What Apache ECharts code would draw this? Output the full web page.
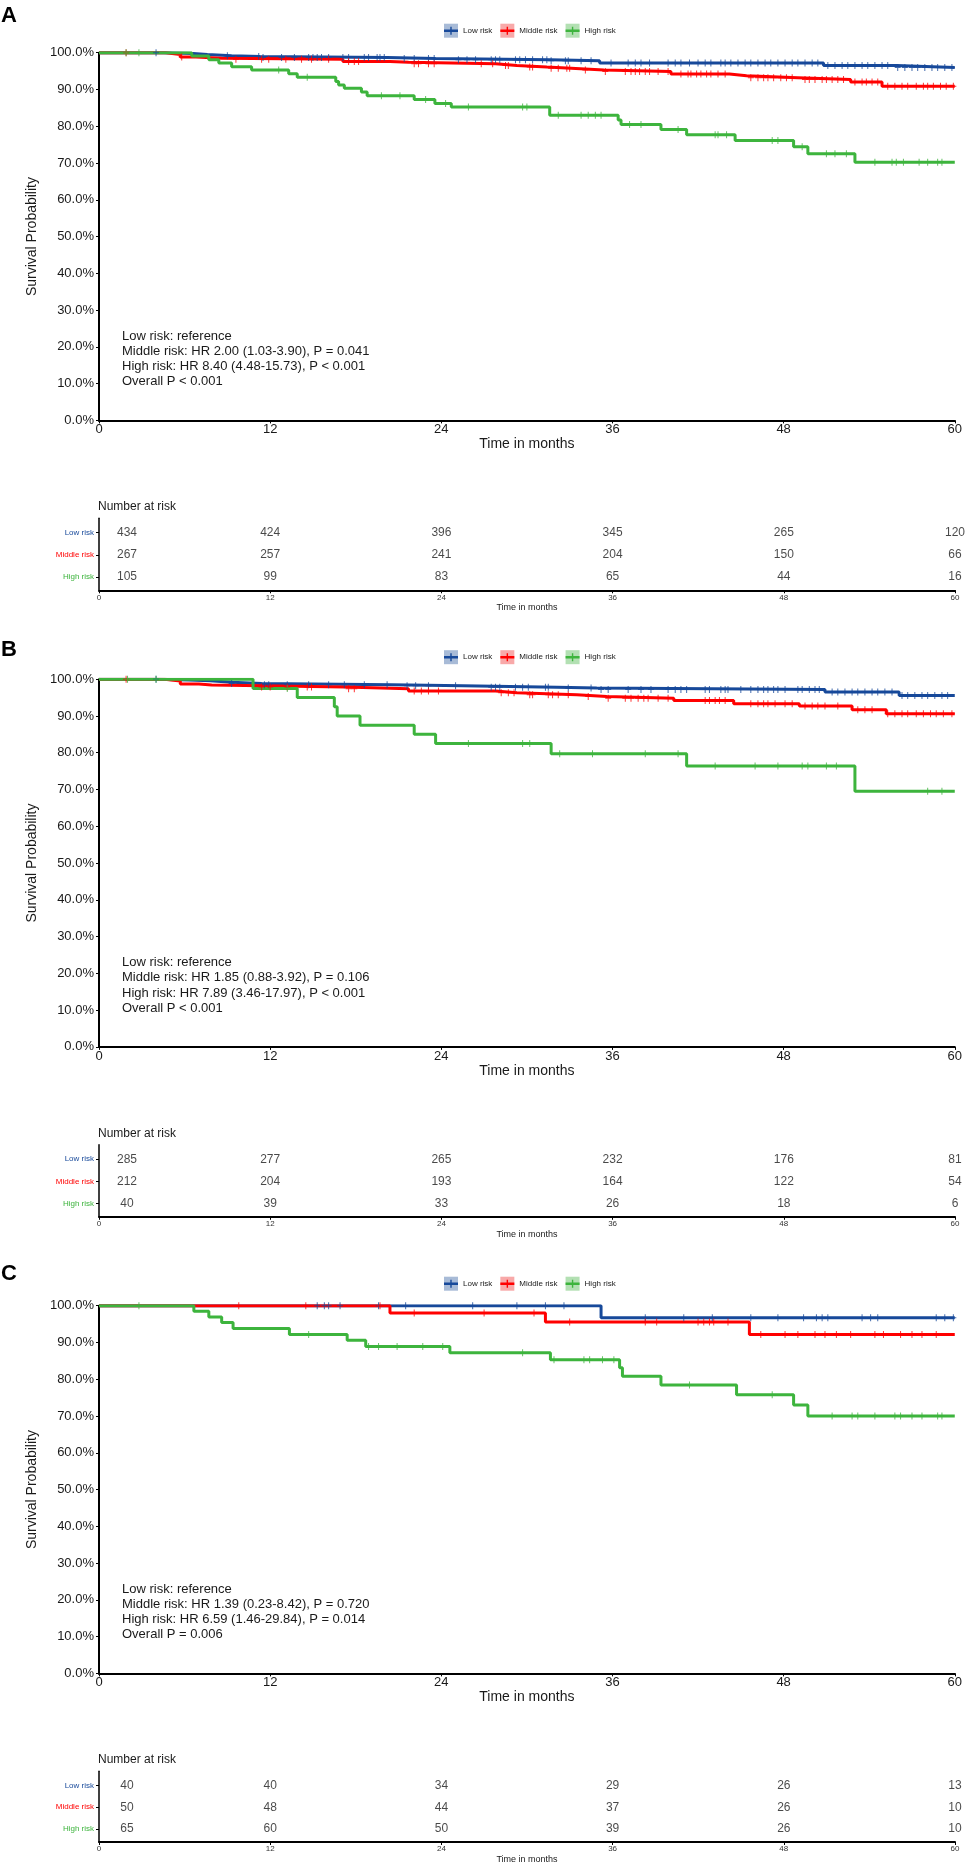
<!DOCTYPE html>
<html><head><meta charset="utf-8">
<script src="https://cdn.jsdelivr.net/npm/echarts@6/dist/echarts.min.js"></script>
<style>html,body{margin:0;padding:0;background:#fff}#c{width:965px;height:1865px}</style>
</head><body><div id="c"></div>
<script>
const groups = ['Low risk', 'Middle risk', 'High risk'];
const riskTimes = [0, 12, 24, 36, 48, 60];

// ---------- Panel A ----------
const aLowSteps = [[0,1],[4.5,0.998],[6.6,0.995],[7.6,0.992],[9.3,0.990],[11.3,0.987],[20.2,0.984],[23.6,0.981],[31.6,0.978],[35.1,0.972],[50.8,0.965],[55.9,0.960],[60,0.960]];
const aMidSteps = [[0,1],[4.7,0.995],[5.7,0.988],[6.8,0.985],[8.6,0.982],[17.1,0.976],[20.4,0.974],[21.7,0.970],[27.8,0.965],[29.3,0.961],[31.4,0.958],[33.1,0.953],[35.4,0.949],[40.1,0.942],[44.2,0.937],[45.4,0.932],[49.0,0.927],[52.7,0.920],[54.9,0.909],[60,0.909]];
const aHighSteps = [[0,1],[6.5,0.991],[7.7,0.981],[8.4,0.972],[9.3,0.962],[10.7,0.953],[13.3,0.943],[13.9,0.933],[16.6,0.922],[16.8,0.912],[17.2,0.903],[18.4,0.893],[18.8,0.883],[22.1,0.873],[23.55,0.862],[24.7,0.852],[31.6,0.830],[36.4,0.817],[36.6,0.805],[39.4,0.791],[41.2,0.777],[44.6,0.761],[48.7,0.744],[49.7,0.725],[53.0,0.702],[60,0.702]];
const aLowCensor = [4.0,9.0,11.2,11.5,12.8,13.7,14.7,15.0,15.3,15.6,16.1,17.1,17.5,18.6,18.9,19.5,19.7,20.0,21.4,22.1,23.1,23.5,25.2,25.8,26.4,27.5,27.8,28.1,29.2,29.5,29.9,30.4,31.1,31.4,31.7,32.7,32.9,33.8,34.5,35.9,37.1,37.6,38.0,38.6,39.9,40.4,40.8,41.4,42.0,42.5,42.9,43.6,43.9,44.3,44.8,45.3,45.7,46.2,46.7,47.1,47.6,48.1,48.6,49.0,49.5,50.0,50.4,51.1,51.6,52.1,52.5,53.0,53.5,53.9,54.4,54.9,55.3,56.0,56.5,57.0,57.4,57.9,58.4,58.8,59.3,59.8];
const aMidCensor = [1.9,5.8,9.6,11.4,11.9,13.1,14.2,14.9,16.1,17.5,17.9,18.2,22.1,22.4,23.1,23.5,26.8,27.6,28.5,28.7,30.2,30.4,31.7,32.2,32.8,33.0,34.1,35.5,36.9,37.3,37.6,37.9,38.3,38.6,39.2,39.9,40.8,41.3,41.5,41.9,42.2,42.6,42.9,43.4,43.9,45.7,46.2,46.6,46.9,47.3,47.8,48.2,48.6,49.5,49.8,50.2,50.7,51.0,51.4,51.8,52.2,53.0,53.5,53.8,54.2,54.6,55.3,55.8,56.3,56.7,57.3,57.8,58.1,58.5,59.0,59.4,59.9];
const aHighCensor = [1.9,2.8,12.6,14.6,19.8,21.1,22.9,24.3,25.9,29.7,30.0,32.2,33.8,34.3,34.8,35.2,37.2,38.0,40.6,43.2,43.4,44.0,47.2,47.6,49.3,51.0,51.6,52.4,54.4,55.6,55.9,56.4,57.5,58.1,58.8,59.1];
const aRiskLow = [434, 424, 396, 345, 265, 120];
const aRiskMid = [267, 257, 241, 204, 150, 66];
const aRiskHigh = [105, 99, 83, 65, 44, 16];
const aStats = ['Low risk: reference', 'Middle risk: HR 2.00 (1.03-3.90), P = 0.041', 'High risk: HR 8.40 (4.48-15.73), P < 0.001', 'Overall P < 0.001'];

// ---------- Panel B ----------
const bLowSteps = [[0,1],[4.1,0.998],[6.3,0.996],[7.8,0.992],[9.3,0.988],[11.4,0.985],[20.5,0.982],[25.5,0.978],[32.1,0.976],[34.9,0.972],[50.9,0.965],[56.1,0.956],[60,0.956]];
const bMidSteps = [[0,1],[4.6,0.995],[5.7,0.987],[7.0,0.984],[7.9,0.979],[17.2,0.974],[21.7,0.968],[27.8,0.963],[29.3,0.958],[33.5,0.953],[35.6,0.948],[40.3,0.942],[44.5,0.933],[49.1,0.927],[52.8,0.917],[55.2,0.906],[60,0.906]];
const bHighSteps = [[0,1],[10.8,0.975],[13.9,0.950],[16.5,0.925],[16.7,0.900],[18.3,0.875],[22.1,0.850],[23.6,0.825],[31.7,0.797],[41.2,0.764],[53.0,0.695],[60,0.695]];
const bLowCensor = [4.0,9.3,11.6,11.9,13.2,14.7,16.1,17.2,18.6,20.2,21.6,22.2,23.1,25.0,27.5,27.8,28.1,29.2,29.7,30.1,31.3,31.5,32.9,34.5,35.2,35.7,37.1,38.0,38.7,39.9,40.4,40.8,41.2,42.5,42.8,43.6,43.9,44.1,45.0,45.7,46.2,46.6,46.9,47.3,47.6,48.1,49.0,49.3,49.8,50.2,50.5,51.4,51.8,52.3,52.8,53.2,53.7,54.2,54.6,55.1,55.6,56.3,56.7,57.2,57.7,58.1,58.6,59.1,59.5];
const bMidCensor = [1.9,11.4,12.0,13.2,14.6,14.9,17.5,17.9,22.1,22.6,23.1,23.8,28.2,28.7,29.1,30.2,30.4,31.5,31.8,32.2,32.9,34.3,35.7,36.9,37.3,37.8,38.2,38.5,39.2,39.9,42.5,42.8,43.2,43.5,43.9,45.7,46.2,46.6,46.9,47.4,48.1,48.6,49.5,50.0,50.4,50.9,51.8,53.2,53.7,54.2,55.3,55.8,56.3,56.7,57.3,57.8,58.3,58.7,59.2,59.8];
const bHighCensor = [2.0,4.0,13.2,25.9,29.7,30.2,32.3,34.6,38.3,40.6,43.2,46.0,47.6,49.3,49.7,51.0,51.7,58.1,59.1];
const bRiskLow = [285, 277, 265, 232, 176, 81];
const bRiskMid = [212, 204, 193, 164, 122, 54];
const bRiskHigh = [40, 39, 33, 26, 18, 6];
const bStats = ['Low risk: reference', 'Middle risk: HR 1.85 (0.88-3.92), P = 0.106', 'High risk: HR 7.89 (3.46-17.97), P < 0.001', 'Overall P < 0.001'];

// ---------- Panel C ----------
const cLowSteps = [[0,1],[35.2,0.967],[60,0.967]];
const cMidSteps = [[0,1],[20.4,0.980],[31.3,0.956],[45.6,0.922],[60,0.922]];
const cHighSteps = [[0,1],[6.65,0.985],[7.7,0.969],[8.6,0.954],[9.4,0.938],[13.35,0.922],[17.4,0.906],[18.7,0.889],[24.6,0.872],[31.65,0.853],[36.5,0.831],[36.7,0.808],[39.4,0.784],[44.7,0.758],[48.7,0.730],[49.7,0.700],[60,0.700]];
const cLowCensor = [15.3,15.8,16.1,16.9,19.6,21.5,26.2,29.3,31.3,32.6,38.3,41.0,43.0,45.7,47.6,49.4,50.3,50.7,51.1,53.5,54.1,54.6,58.7,59.3,59.9];
const cMidCensor = [9.8,14.5,19.7,22.1,27.0,30.5,33.0,38.3,39.1,42.0,42.4,42.8,43.1,44.1,46.4,48.1,49.0,50.2,50.9,51.7,52.7,54.4,55.0,56.2,57.0,57.7,58.7];
const cHighCensor = [2.8,14.7,18.9,19.6,20.9,22.7,24.1,29.7,31.9,34.0,34.4,35.3,36.1,41.4,47.2,51.4,52.8,53.2,54.4,55.8,56.2,57.0,57.7,58.8,59.1];
const cRiskLow = [40, 40, 34, 29, 26, 13];
const cRiskMid = [50, 48, 44, 37, 26, 10];
const cRiskHigh = [65, 60, 50, 39, 26, 10];
const cStats = ['Low risk: reference', 'Middle risk: HR 1.39 (0.23-8.42), P = 0.720', 'High risk: HR 6.59 (1.46-29.84), P = 0.014', 'Overall P = 0.006'];

const panels = [
  {label: 'A', steps: [aLowSteps, aMidSteps, aHighSteps], censor: [aLowCensor, aMidCensor, aHighCensor], risk: [aRiskLow, aRiskMid, aRiskHigh], stats: aStats},
  {label: 'B', steps: [bLowSteps, bMidSteps, bHighSteps], censor: [bLowCensor, bMidCensor, bHighCensor], risk: [bRiskLow, bRiskMid, bRiskHigh], stats: bStats},
  {label: 'C', steps: [cLowSteps, cMidSteps, cHighSteps], censor: [cLowCensor, cMidCensor, cHighCensor], risk: [cRiskLow, cRiskMid, cRiskHigh], stats: cStats}
];

const FONT = '"Liberation Sans", Arial, Helvetica, sans-serif';
const colors = ['#17499A', '#FF0000', '#3DB43D'];
const lightColors = ['#A8BBD7', '#F8A9A9', '#B3E0B3'];
const offs = [0, 626.5, 1253];
const labelTops = [4, 638, 1262];
const PLUS = 'path://M0,3H6V4H0Z M2.5,0H3.5V7H2.5Z';
const KEY = 'path://M0,2.75H14V5.25H0Z M6.3,0H7.7V8H6.3Z';
const TXT = '#1a1a1a';

function survAt(steps, t) {
  let s = 1;
  for (const [tt, v] of steps) { if (tt <= t) s = v; else break; }
  return s;
}

const option = {
  animation: false,
  textStyle: {fontFamily: FONT},
  grid: [], xAxis: [], yAxis: [], series: [], title: [], legend: []
};

panels.forEach((p, i) => {
  const o = offs[i];
  const gp = 2 * i, gt = 2 * i + 1;
  option.grid.push({left: 99, width: 856, top: 52.7 + o, height: 367.7});
  option.grid.push({left: 99, width: 856, top: 518.3 + o, height: 72});

  option.xAxis.push({
    gridIndex: gp, type: 'value', min: 0, max: 60, interval: 12,
    axisLine: {show: true, onZero: false, lineStyle: {color: '#000', width: 2}},
    axisTick: {show: true, length: 3, lineStyle: {color: '#000'}},
    axisLabel: {fontSize: 13, color: TXT, margin: 3},
    splitLine: {show: false},
    name: 'Time in months', nameLocation: 'middle', nameGap: 16,
    nameTextStyle: {fontSize: 14, color: TXT}
  });
  option.yAxis.push({
    gridIndex: gp, type: 'value', min: 0, max: 1, interval: 0.1,
    axisLine: {show: true, onZero: false, lineStyle: {color: '#000', width: 2}},
    axisTick: {show: true, length: 3, lineStyle: {color: '#000'}},
    axisLabel: {fontSize: 13, color: TXT, margin: 5, formatter: v => (v * 100).toFixed(1) + '%'},
    splitLine: {show: false},
    name: 'Survival Probability', nameLocation: 'middle', nameGap: 43,
    nameTextStyle: {fontSize: 14, color: TXT}
  });
  option.xAxis.push({
    gridIndex: gt, type: 'value', min: 0, max: 60, interval: 12,
    axisLine: {show: true, onZero: false, lineStyle: {color: '#000', width: 2}},
    axisTick: {show: true, length: 3, lineStyle: {color: '#000'}},
    axisLabel: {fontSize: 8, color: '#333', margin: 3},
    splitLine: {show: false},
    name: 'Time in months', nameLocation: 'middle', nameGap: 13,
    nameTextStyle: {fontSize: 9, color: TXT}
  });
  option.yAxis.push({
    gridIndex: gt, type: 'value', min: 0.4, max: 3.65,
    axisLine: {show: true, onZero: false, lineStyle: {color: '#000', width: 1.5}},
    axisTick: {show: true, length: 3, customValues: [1, 2, 3], lineStyle: {color: '#000'}},
    axisLabel: {
      fontSize: 8, margin: 5, customValues: [1, 2, 3],
      formatter: v => '{g' + (3 - v) + '|' + groups[3 - v] + '}',
      rich: {
        g0: {color: colors[0], fontSize: 8},
        g1: {color: colors[1], fontSize: 8},
        g2: {color: colors[2], fontSize: 8}
      }
    },
    splitLine: {show: false}
  });

  p.steps.forEach((s, k) => {
    option.series.push({
      type: 'line', name: groups[k], xAxisIndex: gp, yAxisIndex: gp,
      data: s, step: 'end', showSymbol: false, symbol: 'none', clip: true, silent: true,
      lineStyle: {color: colors[k], width: 3}, itemStyle: {color: colors[k]}, z: 2 + k
    });
  });
  p.censor.forEach((c, k) => {
    option.series.push({
      type: 'scatter', name: groups[k], xAxisIndex: gp, yAxisIndex: gp, silent: true,
      data: c.map(t => [t, survAt(p.steps[k], t)]),
      symbol: PLUS, symbolSize: [6, 7], itemStyle: {color: colors[k]}, z: 10
    });
  });
  p.risk.forEach((r, k) => {
    option.series.push({
      type: 'scatter', xAxisIndex: gt, yAxisIndex: gt, silent: true,
      symbol: 'circle', symbolSize: 1, itemStyle: {color: 'transparent'},
      data: r.map((n, j) => j === 0
        ? {value: [riskTimes[j], 3 - k, n], label: {offset: [28, 0]}}
        : {value: [riskTimes[j], 3 - k, n]}),
      label: {show: true, position: 'inside', formatter: d => d.value[2], fontSize: 12, color: TXT}
    });
  });

  option.title.push({text: p.label, left: 1, top: labelTops[i], padding: 0,
    textStyle: {fontSize: 22, fontWeight: 'bold', color: '#000', lineHeight: 24}});
  option.title.push({text: 'Number at risk', left: 98, top: 501 + o, padding: 0,
    textStyle: {fontSize: 12, fontWeight: 'normal', color: TXT}});
  option.title.push({text: p.stats.join('\n'), left: 122, top: 328.3 + o, padding: 0,
    textStyle: {fontSize: 13, fontWeight: 'normal', color: TXT, lineHeight: 15.3}});

  option.legend.push({
    left: 444, top: 23.7 + o, padding: 0, itemWidth: 14, itemHeight: 14, itemGap: 8,
    selectedMode: false, icon: 'rect',
    textStyle: {fontSize: 8, color: TXT},
    data: groups.map((g, k) => ({name: g, itemStyle: {color: lightColors[k], borderWidth: 0}}))
  });
  option.legend.push({
    left: 444, top: 26.7 + o, padding: 0, itemWidth: 14, itemHeight: 8, itemGap: 8,
    selectedMode: false, icon: KEY,
    textStyle: {fontSize: 8, lineHeight: 8, color: 'rgba(0,0,0,0)'},
    data: groups.map((g, k) => ({name: g, itemStyle: {color: colors[k], borderWidth: 0}}))
  });
});

const chart = echarts.init(document.getElementById('c'), null, {renderer: 'canvas'});
chart.setOption(option);
</script>
</body></html>
